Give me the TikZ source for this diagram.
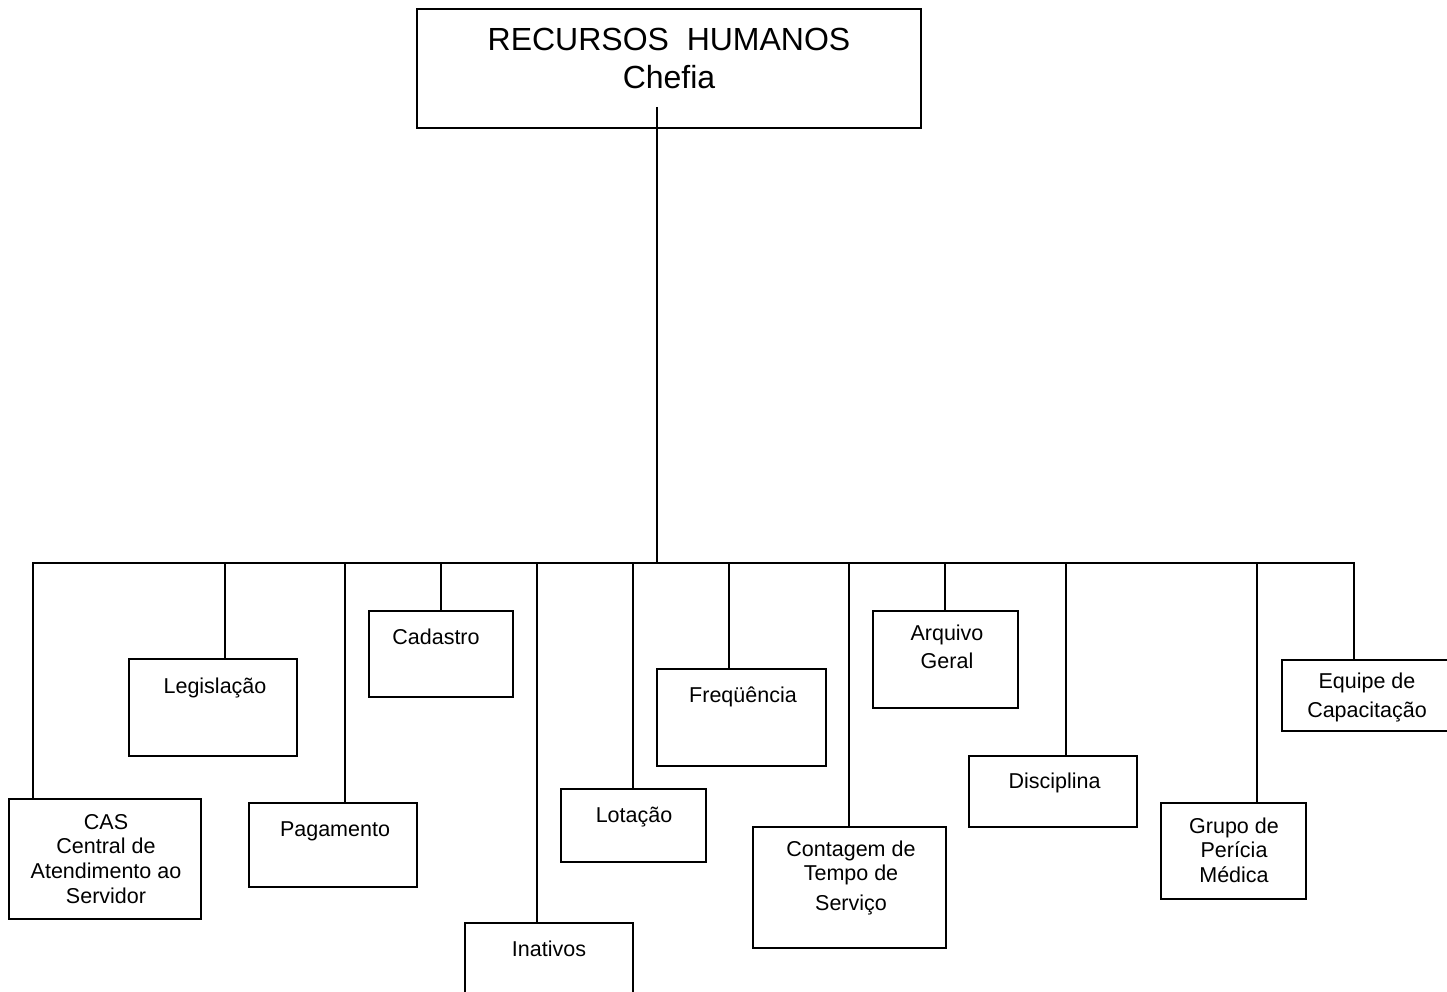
\documentclass[tikz,border=0pt]{standalone}
\usepackage{fontspec}
\setmainfont{Liberation Sans}
\begin{document}
\begin{tikzpicture}[x=1pt,y=-1pt,
  box/.style={draw, line width=1.6pt, rectangle, inner sep=0pt, outer sep=0pt},
  conn/.style={line width=1.6pt},
  lbl/.style={anchor=north, inner sep=0pt, align=center, font=\fontsize{21.5}{24.7}\selectfont},
  toplbl/.style={anchor=north, inner sep=0pt, align=center, font=\fontsize{32}{38}\selectfont}]
\useasboundingbox (0,0) rectangle (1447,992);

% boxes
\node[box, minimum width=504pt, minimum height=119pt] (top) at (669,68.5) {};
\node[box, minimum width=192pt, minimum height=120pt] (cas) at (105,859) {};
\node[box, minimum width=168pt, minimum height=97pt] (leg) at (213,707.5) {};
\node[box, minimum width=168pt, minimum height=84pt] (pag) at (333,845) {};
\node[box, minimum width=144pt, minimum height=86pt] (cad) at (441,654) {};
\node[box, minimum width=168pt, minimum height=87pt] (ina) at (549,966.5) {};
\node[box, minimum width=145pt, minimum height=73pt] (lot) at (633.5,825.5) {};
\node[box, minimum width=169pt, minimum height=97pt] (fre) at (741.5,717.5) {};
\node[box, minimum width=193pt, minimum height=121pt] (con) at (849.5,887.5) {};
\node[box, minimum width=145pt, minimum height=97pt] (arq) at (945.5,659.5) {};
\node[box, minimum width=168pt, minimum height=71pt] (dis) at (1053,791.5) {};
\node[box, minimum width=145pt, minimum height=96pt] (gru) at (1233.5,851) {};
\node[box, minimum width=178pt, minimum height=71pt] (equ) at (1371,695.5) {};

% labels
\node[toplbl] (ttop) at (669,23.4) {\strut RECURSOS~~HUMANOS\\Chefia};
\node[lbl] (tcas) at (106,811.7) {\strut CAS\\Central de\\Atendimento ao\\Servidor};
\node[lbl] (tleg) at (215,675.7) {\strut Legisla\c{c}\~ao};
\node[lbl] (tpag) at (335,818.7) {\strut Pagamento};
\node[lbl] (tcad) at (436,626.7) {\strut Cadastro};
\node[lbl] (tina) at (549,938.7) {\strut Inativos};
\node[lbl] (tlot) at (634,804.7) {\strut Lota\c{c}\~ao};
\node[lbl] (tfre) at (743,684.7) {\strut Freq\"u\^encia};
\node[lbl] (tcon) at (851,838.7) {\strut Contagem de\\Tempo de\\[5.3pt]Servi\c{c}o};
\node[lbl] (tarq) at (947,622.7) {\strut Arquivo\\[3.3pt]Geral};
\node[lbl] (tdis) at (1054.5,770.7) {\strut Disciplina};
\node[lbl] (tgru) at (1234,815.7) {\strut Grupo de\\Per\'icia\\M\'edica};
\node[lbl] (tequ) at (1367,670.7) {\strut Equipe de\\[4.3pt]Capacita\c{c}\~ao};

% bus coordinates
\coordinate (tstart) at (657,107);
\coordinate (b-main) at (657,563);
\coordinate (b-cas) at (33,563);
\coordinate (b-leg) at (225,563);
\coordinate (b-pag) at (345,563);
\coordinate (b-cad) at (441,563);
\coordinate (b-ina) at (537,563);
\coordinate (b-lot) at (633,563);
\coordinate (b-fre) at (729,563);
\coordinate (b-con) at (849,563);
\coordinate (b-arq) at (945,563);
\coordinate (b-dis) at (1066,563);
\coordinate (b-gru) at (1257,563);
\coordinate (b-equ) at (1354,563);

% connectors
\draw[conn] (tstart) -- (b-main);
\draw[conn] (cas.north -| b-cas) -- (b-cas) -- (b-equ) -- (equ.north -| b-equ);
\draw[conn] (b-leg) -- (b-leg |- leg.north);
\draw[conn] (b-pag) -- (b-pag |- pag.north);
\draw[conn] (b-cad) -- (b-cad |- cad.north);
\draw[conn] (b-ina) -- (b-ina |- ina.north);
\draw[conn] (b-lot) -- (b-lot |- lot.north);
\draw[conn] (b-fre) -- (b-fre |- fre.north);
\draw[conn] (b-con) -- (b-con |- con.north);
\draw[conn] (b-arq) -- (b-arq |- arq.north);
\draw[conn] (b-dis) -- (b-dis |- dis.north);
\draw[conn] (b-gru) -- (b-gru |- gru.north);
\end{tikzpicture}
\end{document}
